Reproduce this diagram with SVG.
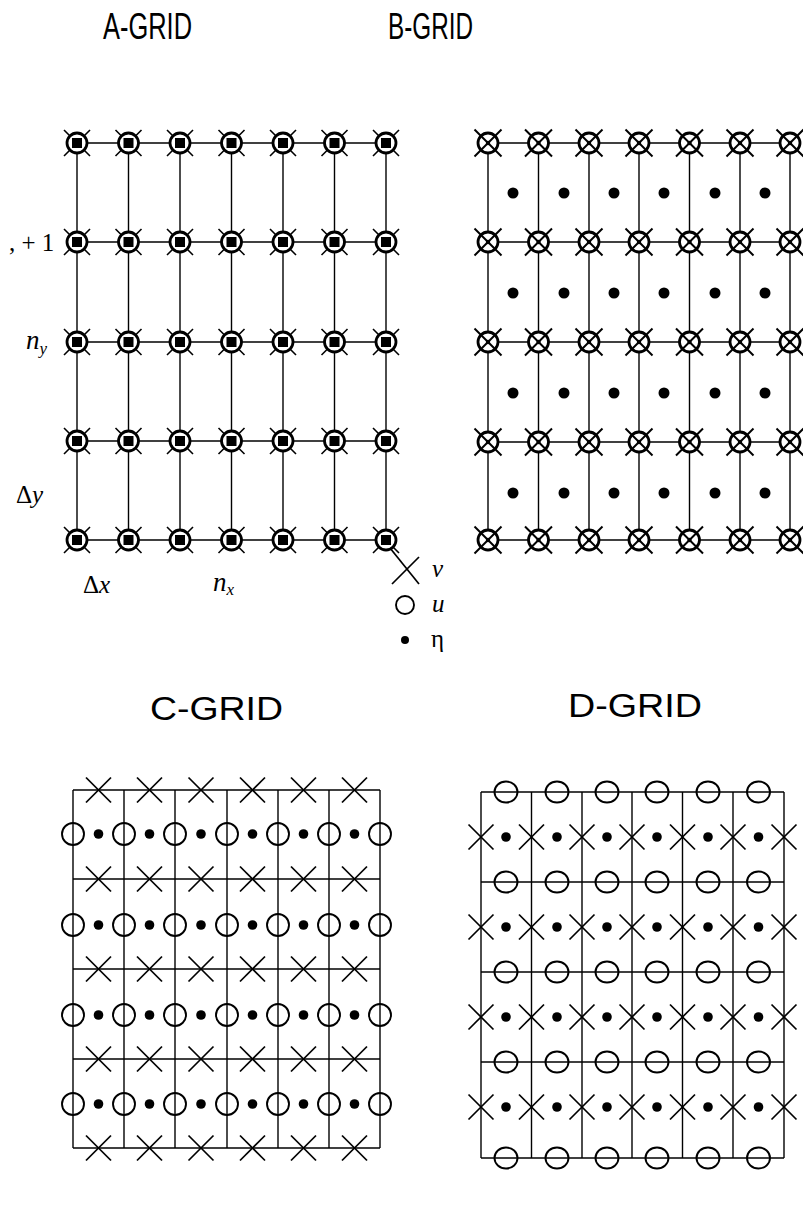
<svg xmlns="http://www.w3.org/2000/svg" xmlns:xlink="http://www.w3.org/1999/xlink" width="803" height="1223" viewBox="0 0 803 1223">
<style>
.title{font-family:"Liberation Sans",Arial,sans-serif;font-size:34px;fill:#000}
.tAB{font-size:37px}
.lab{font-family:"Liberation Serif","Times New Roman",serif;font-size:25px;fill:#000}
.it{font-style:italic}
.big{font-size:27px}
.sub{font-family:"Liberation Serif","Times New Roman",serif;font-style:italic;font-size:17px}
.grid line{stroke:#000;stroke-width:1.4}
</style>
<defs>
<g id="nA">
<circle r="10" fill="#fff" stroke="#000" stroke-width="2.8"/>
<line x1="-13" y1="-13" x2="-7" y2="-7" stroke="#000" stroke-width="1.6"/>
<line x1="13" y1="13" x2="7" y2="7" stroke="#000" stroke-width="1.6"/>
<line x1="-13" y1="13" x2="-7" y2="7" stroke="#000" stroke-width="1.6"/>
<line x1="13" y1="-13" x2="7" y2="-7" stroke="#000" stroke-width="1.6"/>
<rect x="-5" y="-5" width="10" height="10" fill="#000"/>
</g>
<g id="nB">
<circle r="10" fill="#fff" stroke="#000" stroke-width="2.8"/>
<line x1="-13.5" y1="-13.5" x2="13.5" y2="13.5" stroke="#000" stroke-width="2"/>
<line x1="-13.5" y1="13.5" x2="13.5" y2="-13.5" stroke="#000" stroke-width="2"/>
<circle r="2.2" fill="#000"/>
</g>
<g id="xs">
<line x1="-12.5" y1="-12.5" x2="12.5" y2="12.5" stroke="#000" stroke-width="1.7"/>
<line x1="-12.5" y1="12.5" x2="12.5" y2="-12.5" stroke="#000" stroke-width="1.7"/>
</g>
<circle id="oc" r="11" fill="none" stroke="#000" stroke-width="1.9"/>
<ellipse id="od" rx="11.5" ry="10.5" fill="none" stroke="#000" stroke-width="1.9"/>
<circle id="dt" r="4.8" fill="#000"/>
<circle id="dtb" r="5.5" fill="#000"/>
</defs>
<rect width="803" height="1223" fill="#fff"/>

<text class="title tAB" x="103" y="39" textLength="89" lengthAdjust="spacingAndGlyphs">A-GRID</text>
<text class="title tAB" x="388" y="39" textLength="85" lengthAdjust="spacingAndGlyphs">B-GRID</text>
<text class="title" x="150" y="720" textLength="133" lengthAdjust="spacingAndGlyphs">C-GRID</text>
<text class="title" x="568" y="717" textLength="134" lengthAdjust="spacingAndGlyphs">D-GRID</text>

<!-- A grid -->
<g id="gridA">
<g class="grid">
<line x1="77" y1="143" x2="386" y2="143"/><line x1="77" y1="242" x2="386" y2="242"/><line x1="77" y1="342" x2="386" y2="342"/><line x1="77" y1="441" x2="386" y2="441"/><line x1="77" y1="540" x2="386" y2="540"/>
<line x1="77" y1="143" x2="77" y2="540"/><line x1="128.5" y1="143" x2="128.5" y2="540"/><line x1="180" y1="143" x2="180" y2="540"/><line x1="231.5" y1="143" x2="231.5" y2="540"/><line x1="283" y1="143" x2="283" y2="540"/><line x1="334.5" y1="143" x2="334.5" y2="540"/><line x1="386" y1="143" x2="386" y2="540"/>
</g>
<g id="nodesA">
<use xlink:href="#nA" x="77" y="143"/><use xlink:href="#nA" x="128.5" y="143"/><use xlink:href="#nA" x="180" y="143"/><use xlink:href="#nA" x="231.5" y="143"/><use xlink:href="#nA" x="283" y="143"/><use xlink:href="#nA" x="334.5" y="143"/><use xlink:href="#nA" x="386" y="143"/>
<use xlink:href="#nA" x="77" y="242"/><use xlink:href="#nA" x="128.5" y="242"/><use xlink:href="#nA" x="180" y="242"/><use xlink:href="#nA" x="231.5" y="242"/><use xlink:href="#nA" x="283" y="242"/><use xlink:href="#nA" x="334.5" y="242"/><use xlink:href="#nA" x="386" y="242"/>
<use xlink:href="#nA" x="77" y="342"/><use xlink:href="#nA" x="128.5" y="342"/><use xlink:href="#nA" x="180" y="342"/><use xlink:href="#nA" x="231.5" y="342"/><use xlink:href="#nA" x="283" y="342"/><use xlink:href="#nA" x="334.5" y="342"/><use xlink:href="#nA" x="386" y="342"/>
<use xlink:href="#nA" x="77" y="441"/><use xlink:href="#nA" x="128.5" y="441"/><use xlink:href="#nA" x="180" y="441"/><use xlink:href="#nA" x="231.5" y="441"/><use xlink:href="#nA" x="283" y="441"/><use xlink:href="#nA" x="334.5" y="441"/><use xlink:href="#nA" x="386" y="441"/>
<use xlink:href="#nA" x="77" y="540"/><use xlink:href="#nA" x="128.5" y="540"/><use xlink:href="#nA" x="180" y="540"/><use xlink:href="#nA" x="231.5" y="540"/><use xlink:href="#nA" x="283" y="540"/><use xlink:href="#nA" x="334.5" y="540"/><use xlink:href="#nA" x="386" y="540"/>
</g>
<text class="lab" x="9" y="251">, + 1</text>
<text class="lab it big" x="26" y="349">n<tspan class="sub" dy="5">y</tspan></text>
<text class="lab" x="16" y="503">Δ<tspan class="it">y</tspan></text>
<text class="lab" x="83" y="593">Δ<tspan class="it">x</tspan></text>
<text class="lab it big" x="213" y="591">n<tspan class="sub" dy="4">x</tspan></text>
</g>

<!-- legend -->
<g id="legend">
<line x1="390" y1="548" x2="419" y2="584" stroke="#000" stroke-width="1.7"/>
<line x1="392" y1="584" x2="419" y2="557" stroke="#000" stroke-width="1.7"/>
<text class="lab it" x="432" y="577">v</text>
<circle cx="405" cy="605" r="9" fill="none" stroke="#000" stroke-width="1.9"/>
<text class="lab it" x="432" y="612">u</text>
<circle cx="405" cy="640" r="4" fill="#000"/>
<text class="lab" x="431" y="647">η</text>
</g>

<!-- B grid -->
<g id="gridB">
<g class="grid">
<line x1="488" y1="143" x2="790" y2="143"/><line x1="488" y1="242" x2="790" y2="242"/><line x1="488" y1="342" x2="790" y2="342"/><line x1="488" y1="442" x2="790" y2="442"/><line x1="488" y1="540" x2="790" y2="540"/>
<line x1="488" y1="143" x2="488" y2="540"/><line x1="538.5" y1="143" x2="538.5" y2="540"/><line x1="589" y1="143" x2="589" y2="540"/><line x1="639" y1="143" x2="639" y2="540"/><line x1="689.5" y1="143" x2="689.5" y2="540"/><line x1="740" y1="143" x2="740" y2="540"/><line x1="790" y1="143" x2="790" y2="540"/>
</g>
<g id="dotsB">
<use xlink:href="#dtb" x="513" y="193"/><use xlink:href="#dtb" x="564" y="193"/><use xlink:href="#dtb" x="614" y="193"/><use xlink:href="#dtb" x="664" y="193"/><use xlink:href="#dtb" x="715" y="193"/><use xlink:href="#dtb" x="765" y="193"/>
<use xlink:href="#dtb" x="513" y="293"/><use xlink:href="#dtb" x="564" y="293"/><use xlink:href="#dtb" x="614" y="293"/><use xlink:href="#dtb" x="664" y="293"/><use xlink:href="#dtb" x="715" y="293"/><use xlink:href="#dtb" x="765" y="293"/>
<use xlink:href="#dtb" x="513" y="393"/><use xlink:href="#dtb" x="564" y="393"/><use xlink:href="#dtb" x="614" y="393"/><use xlink:href="#dtb" x="664" y="393"/><use xlink:href="#dtb" x="715" y="393"/><use xlink:href="#dtb" x="765" y="393"/>
<use xlink:href="#dtb" x="513" y="493"/><use xlink:href="#dtb" x="564" y="493"/><use xlink:href="#dtb" x="614" y="493"/><use xlink:href="#dtb" x="664" y="493"/><use xlink:href="#dtb" x="715" y="493"/><use xlink:href="#dtb" x="765" y="493"/>
</g>
<g id="nodesB">
<use xlink:href="#nB" x="488" y="143"/><use xlink:href="#nB" x="538.5" y="143"/><use xlink:href="#nB" x="589" y="143"/><use xlink:href="#nB" x="639" y="143"/><use xlink:href="#nB" x="689.5" y="143"/><use xlink:href="#nB" x="740" y="143"/><use xlink:href="#nB" x="790" y="143"/>
<use xlink:href="#nB" x="488" y="242"/><use xlink:href="#nB" x="538.5" y="242"/><use xlink:href="#nB" x="589" y="242"/><use xlink:href="#nB" x="639" y="242"/><use xlink:href="#nB" x="689.5" y="242"/><use xlink:href="#nB" x="740" y="242"/><use xlink:href="#nB" x="790" y="242"/>
<use xlink:href="#nB" x="488" y="342"/><use xlink:href="#nB" x="538.5" y="342"/><use xlink:href="#nB" x="589" y="342"/><use xlink:href="#nB" x="639" y="342"/><use xlink:href="#nB" x="689.5" y="342"/><use xlink:href="#nB" x="740" y="342"/><use xlink:href="#nB" x="790" y="342"/>
<use xlink:href="#nB" x="488" y="442"/><use xlink:href="#nB" x="538.5" y="442"/><use xlink:href="#nB" x="589" y="442"/><use xlink:href="#nB" x="639" y="442"/><use xlink:href="#nB" x="689.5" y="442"/><use xlink:href="#nB" x="740" y="442"/><use xlink:href="#nB" x="790" y="442"/>
<use xlink:href="#nB" x="488" y="540"/><use xlink:href="#nB" x="538.5" y="540"/><use xlink:href="#nB" x="589" y="540"/><use xlink:href="#nB" x="639" y="540"/><use xlink:href="#nB" x="689.5" y="540"/><use xlink:href="#nB" x="740" y="540"/><use xlink:href="#nB" x="790" y="540"/>
</g>
</g>

<!-- C grid -->
<g id="gridC">
<g class="grid">
<line x1="73" y1="790" x2="380" y2="790"/><line x1="73" y1="879" x2="380" y2="879"/><line x1="73" y1="969" x2="380" y2="969"/><line x1="73" y1="1059" x2="380" y2="1059"/><line x1="73" y1="1148" x2="380" y2="1148"/>
<line x1="73" y1="790" x2="73" y2="1148"/><line x1="124" y1="790" x2="124" y2="1148"/><line x1="175" y1="790" x2="175" y2="1148"/><line x1="227" y1="790" x2="227" y2="1148"/><line x1="278" y1="790" x2="278" y2="1148"/><line x1="329" y1="790" x2="329" y2="1148"/><line x1="380" y1="790" x2="380" y2="1148"/>
</g>
<g id="xC">
<use xlink:href="#xs" x="98.5" y="790"/><use xlink:href="#xs" x="149.5" y="790"/><use xlink:href="#xs" x="201" y="790"/><use xlink:href="#xs" x="252.5" y="790"/><use xlink:href="#xs" x="303.5" y="790"/><use xlink:href="#xs" x="354.5" y="790"/>
<use xlink:href="#xs" x="98.5" y="879"/><use xlink:href="#xs" x="149.5" y="879"/><use xlink:href="#xs" x="201" y="879"/><use xlink:href="#xs" x="252.5" y="879"/><use xlink:href="#xs" x="303.5" y="879"/><use xlink:href="#xs" x="354.5" y="879"/>
<use xlink:href="#xs" x="98.5" y="969"/><use xlink:href="#xs" x="149.5" y="969"/><use xlink:href="#xs" x="201" y="969"/><use xlink:href="#xs" x="252.5" y="969"/><use xlink:href="#xs" x="303.5" y="969"/><use xlink:href="#xs" x="354.5" y="969"/>
<use xlink:href="#xs" x="98.5" y="1059"/><use xlink:href="#xs" x="149.5" y="1059"/><use xlink:href="#xs" x="201" y="1059"/><use xlink:href="#xs" x="252.5" y="1059"/><use xlink:href="#xs" x="303.5" y="1059"/><use xlink:href="#xs" x="354.5" y="1059"/>
<use xlink:href="#xs" x="98.5" y="1148"/><use xlink:href="#xs" x="149.5" y="1148"/><use xlink:href="#xs" x="201" y="1148"/><use xlink:href="#xs" x="252.5" y="1148"/><use xlink:href="#xs" x="303.5" y="1148"/><use xlink:href="#xs" x="354.5" y="1148"/>
</g>
<g id="oC">
<use xlink:href="#oc" x="73" y="834"/><use xlink:href="#oc" x="124" y="834"/><use xlink:href="#oc" x="175" y="834"/><use xlink:href="#oc" x="227" y="834"/><use xlink:href="#oc" x="278" y="834"/><use xlink:href="#oc" x="329" y="834"/><use xlink:href="#oc" x="380" y="834"/>
<use xlink:href="#oc" x="73" y="925"/><use xlink:href="#oc" x="124" y="925"/><use xlink:href="#oc" x="175" y="925"/><use xlink:href="#oc" x="227" y="925"/><use xlink:href="#oc" x="278" y="925"/><use xlink:href="#oc" x="329" y="925"/><use xlink:href="#oc" x="380" y="925"/>
<use xlink:href="#oc" x="73" y="1015"/><use xlink:href="#oc" x="124" y="1015"/><use xlink:href="#oc" x="175" y="1015"/><use xlink:href="#oc" x="227" y="1015"/><use xlink:href="#oc" x="278" y="1015"/><use xlink:href="#oc" x="329" y="1015"/><use xlink:href="#oc" x="380" y="1015"/>
<use xlink:href="#oc" x="73" y="1104"/><use xlink:href="#oc" x="124" y="1104"/><use xlink:href="#oc" x="175" y="1104"/><use xlink:href="#oc" x="227" y="1104"/><use xlink:href="#oc" x="278" y="1104"/><use xlink:href="#oc" x="329" y="1104"/><use xlink:href="#oc" x="380" y="1104"/>
</g>
<g id="dC">
<use xlink:href="#dt" x="98.5" y="834"/><use xlink:href="#dt" x="149.5" y="834"/><use xlink:href="#dt" x="201" y="834"/><use xlink:href="#dt" x="252.5" y="834"/><use xlink:href="#dt" x="303.5" y="834"/><use xlink:href="#dt" x="354.5" y="834"/>
<use xlink:href="#dt" x="98.5" y="925"/><use xlink:href="#dt" x="149.5" y="925"/><use xlink:href="#dt" x="201" y="925"/><use xlink:href="#dt" x="252.5" y="925"/><use xlink:href="#dt" x="303.5" y="925"/><use xlink:href="#dt" x="354.5" y="925"/>
<use xlink:href="#dt" x="98.5" y="1015"/><use xlink:href="#dt" x="149.5" y="1015"/><use xlink:href="#dt" x="201" y="1015"/><use xlink:href="#dt" x="252.5" y="1015"/><use xlink:href="#dt" x="303.5" y="1015"/><use xlink:href="#dt" x="354.5" y="1015"/>
<use xlink:href="#dt" x="98.5" y="1104"/><use xlink:href="#dt" x="149.5" y="1104"/><use xlink:href="#dt" x="201" y="1104"/><use xlink:href="#dt" x="252.5" y="1104"/><use xlink:href="#dt" x="303.5" y="1104"/><use xlink:href="#dt" x="354.5" y="1104"/>
</g>
</g>

<!-- D grid -->
<g id="gridD">
<g class="grid">
<line x1="481" y1="792" x2="784" y2="792"/><line x1="481" y1="882" x2="784" y2="882"/><line x1="481" y1="972" x2="784" y2="972"/><line x1="481" y1="1062" x2="784" y2="1062"/><line x1="481" y1="1158" x2="784" y2="1158"/>
<line x1="481" y1="792" x2="481" y2="1158"/><line x1="531.5" y1="792" x2="531.5" y2="1158"/><line x1="582" y1="792" x2="582" y2="1158"/><line x1="632" y1="792" x2="632" y2="1158"/><line x1="682.5" y1="792" x2="682.5" y2="1158"/><line x1="733" y1="792" x2="733" y2="1158"/><line x1="784" y1="792" x2="784" y2="1158"/>
</g>
<g id="oD">
<use xlink:href="#od" x="506" y="792"/><use xlink:href="#od" x="557" y="792"/><use xlink:href="#od" x="607" y="792"/><use xlink:href="#od" x="657" y="792"/><use xlink:href="#od" x="708" y="792"/><use xlink:href="#od" x="758.5" y="792"/>
<use xlink:href="#od" x="506" y="882"/><use xlink:href="#od" x="557" y="882"/><use xlink:href="#od" x="607" y="882"/><use xlink:href="#od" x="657" y="882"/><use xlink:href="#od" x="708" y="882"/><use xlink:href="#od" x="758.5" y="882"/>
<use xlink:href="#od" x="506" y="972"/><use xlink:href="#od" x="557" y="972"/><use xlink:href="#od" x="607" y="972"/><use xlink:href="#od" x="657" y="972"/><use xlink:href="#od" x="708" y="972"/><use xlink:href="#od" x="758.5" y="972"/>
<use xlink:href="#od" x="506" y="1062"/><use xlink:href="#od" x="557" y="1062"/><use xlink:href="#od" x="607" y="1062"/><use xlink:href="#od" x="657" y="1062"/><use xlink:href="#od" x="708" y="1062"/><use xlink:href="#od" x="758.5" y="1062"/>
<use xlink:href="#od" x="506" y="1158"/><use xlink:href="#od" x="557" y="1158"/><use xlink:href="#od" x="607" y="1158"/><use xlink:href="#od" x="657" y="1158"/><use xlink:href="#od" x="708" y="1158"/><use xlink:href="#od" x="758.5" y="1158"/>
</g>
<g id="xD">
<use xlink:href="#xs" x="481" y="837"/><use xlink:href="#xs" x="531.5" y="837"/><use xlink:href="#xs" x="582" y="837"/><use xlink:href="#xs" x="632" y="837"/><use xlink:href="#xs" x="682.5" y="837"/><use xlink:href="#xs" x="733" y="837"/><use xlink:href="#xs" x="784" y="837"/>
<use xlink:href="#xs" x="481" y="927"/><use xlink:href="#xs" x="531.5" y="927"/><use xlink:href="#xs" x="582" y="927"/><use xlink:href="#xs" x="632" y="927"/><use xlink:href="#xs" x="682.5" y="927"/><use xlink:href="#xs" x="733" y="927"/><use xlink:href="#xs" x="784" y="927"/>
<use xlink:href="#xs" x="481" y="1017"/><use xlink:href="#xs" x="531.5" y="1017"/><use xlink:href="#xs" x="582" y="1017"/><use xlink:href="#xs" x="632" y="1017"/><use xlink:href="#xs" x="682.5" y="1017"/><use xlink:href="#xs" x="733" y="1017"/><use xlink:href="#xs" x="784" y="1017"/>
<use xlink:href="#xs" x="481" y="1107"/><use xlink:href="#xs" x="531.5" y="1107"/><use xlink:href="#xs" x="582" y="1107"/><use xlink:href="#xs" x="632" y="1107"/><use xlink:href="#xs" x="682.5" y="1107"/><use xlink:href="#xs" x="733" y="1107"/><use xlink:href="#xs" x="784" y="1107"/>
</g>
<g id="dD">
<use xlink:href="#dt" x="506" y="837"/><use xlink:href="#dt" x="557" y="837"/><use xlink:href="#dt" x="607" y="837"/><use xlink:href="#dt" x="657" y="837"/><use xlink:href="#dt" x="708" y="837"/><use xlink:href="#dt" x="758.5" y="837"/>
<use xlink:href="#dt" x="506" y="927"/><use xlink:href="#dt" x="557" y="927"/><use xlink:href="#dt" x="607" y="927"/><use xlink:href="#dt" x="657" y="927"/><use xlink:href="#dt" x="708" y="927"/><use xlink:href="#dt" x="758.5" y="927"/>
<use xlink:href="#dt" x="506" y="1017"/><use xlink:href="#dt" x="557" y="1017"/><use xlink:href="#dt" x="607" y="1017"/><use xlink:href="#dt" x="657" y="1017"/><use xlink:href="#dt" x="708" y="1017"/><use xlink:href="#dt" x="758.5" y="1017"/>
<use xlink:href="#dt" x="506" y="1107"/><use xlink:href="#dt" x="557" y="1107"/><use xlink:href="#dt" x="607" y="1107"/><use xlink:href="#dt" x="657" y="1107"/><use xlink:href="#dt" x="708" y="1107"/><use xlink:href="#dt" x="758.5" y="1107"/>
</g>
</g>
</svg>
